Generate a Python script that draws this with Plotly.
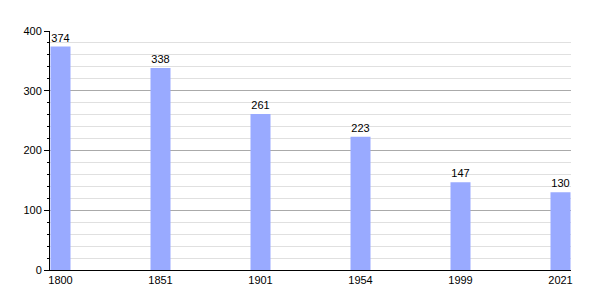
import plotly.graph_objects as go

years = ["1800", "1851", "1901", "1954", "1999", "2021"]
population = [374, 338, 261, 223, 147, 130]
positions = list(range(len(years)))

fig = go.Figure(
    go.Bar(
        x=positions,
        y=population,
        width=0.2,
        marker=dict(color="#99aaff", line=dict(width=0)),
        text=[str(v) for v in population],
        textposition="outside",
        textfont=dict(family="Liberation Sans, Arial, sans-serif", size=11, color="black"),
        cliponaxis=False,
    )
)

fig.update_layout(
    width=600,
    height=300,
    margin=dict(l=50, r=29, t=31, b=30),
    paper_bgcolor="white",
    plot_bgcolor="white",
    showlegend=False,
    font=dict(family="Liberation Sans, Arial, sans-serif", size=11, color="black"),
    xaxis=dict(
        range=[-0.105, 5.105],
        tickvals=positions,
        ticktext=years,
        showgrid=False,
        showline=True,
        linecolor="black",
        linewidth=1,
        ticks="",
        zeroline=False,
        fixedrange=True,
    ),
    yaxis=dict(
        range=[0, 400],
        dtick=100,
        showgrid=True,
        gridcolor="#aaaaaa",
        gridwidth=1,
        showline=True,
        linecolor="black",
        linewidth=1,
        ticks="outside",
        ticklen=5,
        tickcolor="black",
        zeroline=False,
        minor=dict(dtick=20, showgrid=True, gridcolor="#e0e0e0", ticks="outside", ticklen=2, tickcolor="black"),
    ),
)

fig.write_html("out.html")
